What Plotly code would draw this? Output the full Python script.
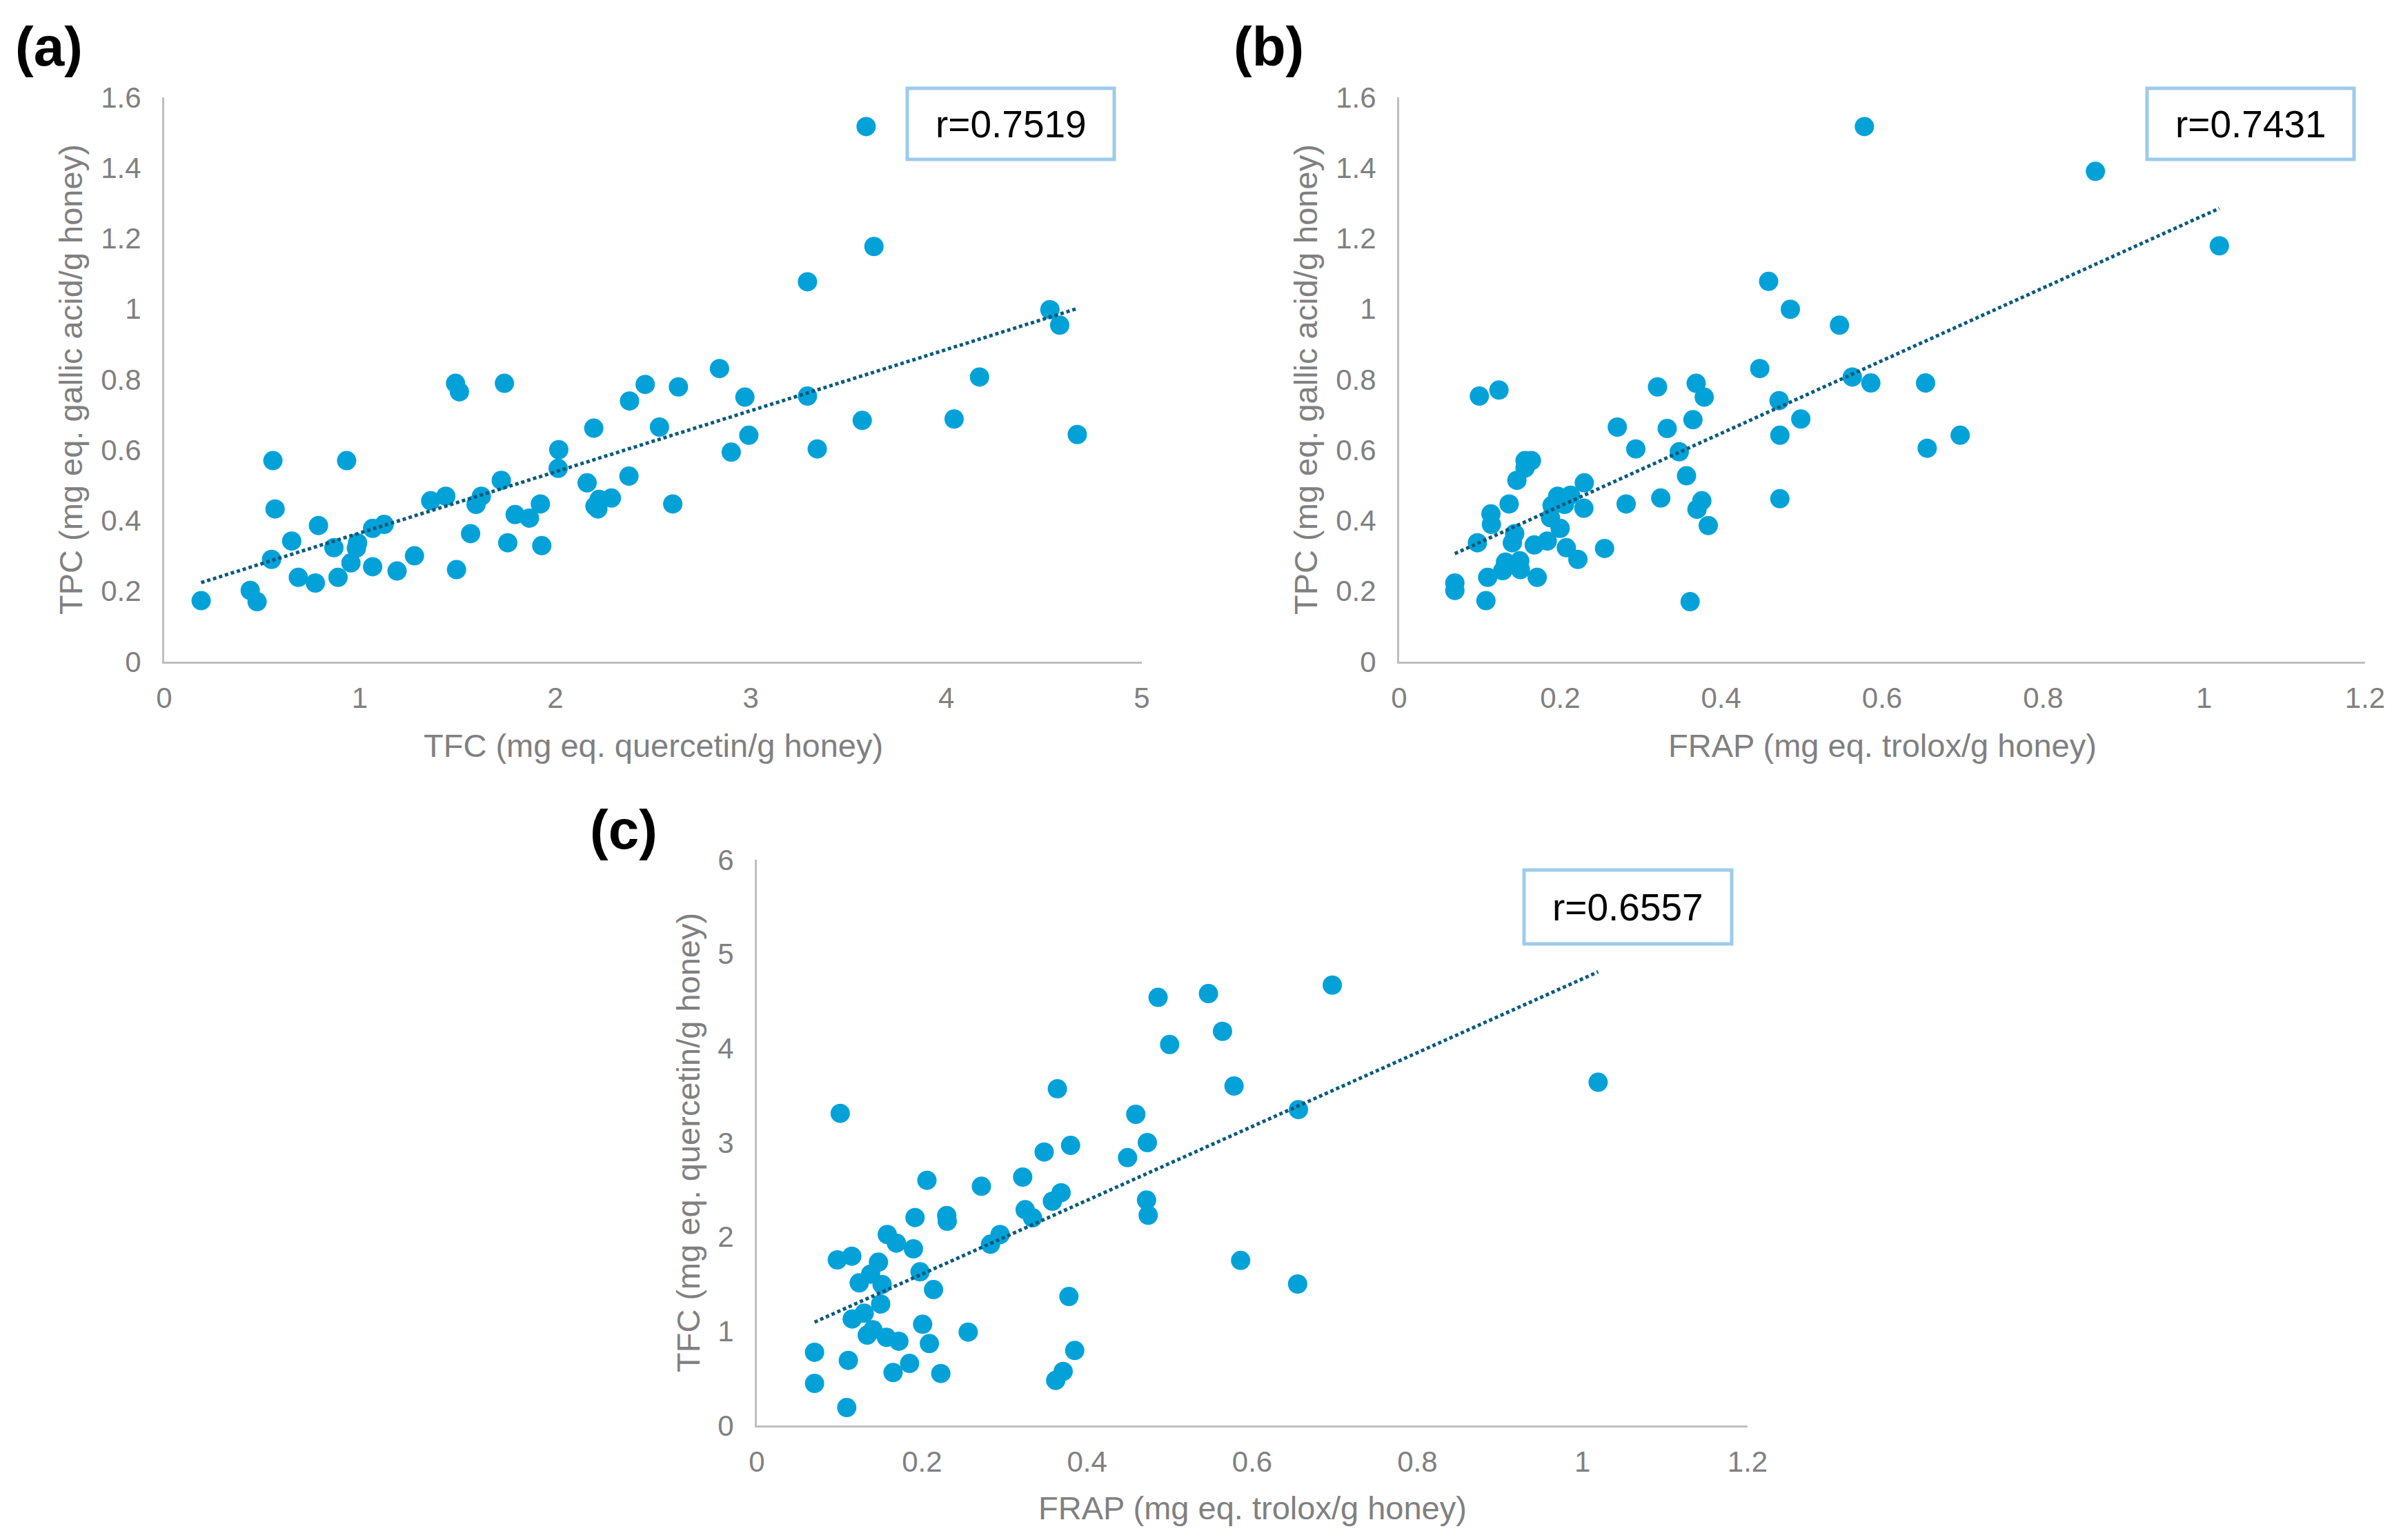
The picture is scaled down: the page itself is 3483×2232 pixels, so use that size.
import numpy as np
import plotly.graph_objects as go

# (a) TPC against TFC
tfc_a = [3.59, 3.63, 3.29, 4.53, 4.58, 2.84, 1.49, 1.51, 1.74, 2.46, 2.63, 2.38, 2.97,
         3.29, 4.17, 4.04, 3.57, 2.99, 4.67, 2.90, 3.34,
         2.197, 2.533, 2.018, 2.015, 1.724, 1.622, 1.595, 2.163, 2.377, 2.224, 2.287,
         2.203, 2.218, 2.601, 1.795, 1.868, 1.924, 1.567, 1.757, 1.931, 1.495,
         0.556, 0.933, 0.567, 0.789, 0.652, 0.549, 0.868, 0.989, 0.983, 0.955, 1.066,
         1.125, 0.686, 0.773, 0.889, 1.066, 1.191, 1.280, 1.363, 1.440, 0.189, 0.440, 0.475]
tpc_a = [1.517, 1.177, 1.077, 0.998, 0.954, 0.831, 0.789, 0.765, 0.789, 0.786, 0.779, 0.739, 0.750,
         0.753, 0.807, 0.688, 0.684, 0.642, 0.644, 0.594, 0.603,
         0.662, 0.665, 0.601, 0.548, 0.514, 0.469, 0.446, 0.507, 0.526, 0.460, 0.464,
         0.441, 0.433, 0.447, 0.417, 0.407, 0.447, 0.363, 0.337, 0.329, 0.261,
         0.570, 0.570, 0.433, 0.386, 0.342, 0.290, 0.323, 0.337, 0.322, 0.280, 0.378,
         0.389, 0.239, 0.223, 0.239, 0.269, 0.257, 0.300, 0.456, 0.469, 0.173, 0.202, 0.170]

# (b) TPC against FRAP
frap_b = [0.578, 0.865, 1.019, 0.459, 0.486, 0.547, 0.448, 0.0996, 0.124, 0.321, 0.369, 0.379,
          0.472, 0.563, 0.586, 0.654, 0.271, 0.333, 0.365, 0.499, 0.473, 0.697, 0.294, 0.348,
          0.656, 0.473,
          0.1564, 0.1643, 0.1564, 0.1463, 0.357, 0.230, 0.1366, 0.1969, 0.2129, 0.190, 0.2055,
          0.2295, 0.282, 0.325, 0.376, 0.370, 0.384, 0.114, 0.1146, 0.188, 0.200, 0.1435,
          0.1406, 0.0972, 0.1678, 0.184, 0.2077, 0.2552, 0.222, 0.1321, 0.1498, 0.1287,
          0.1506, 0.110, 0.1715, 0.0692, 0.0692, 0.1078, 0.3615]
tpc_b = [1.517, 1.390, 1.179, 1.078, 0.999, 0.954, 0.831, 0.753, 0.770, 0.779, 0.789, 0.750,
         0.740, 0.807, 0.790, 0.790, 0.665, 0.661, 0.686, 0.688, 0.642, 0.642, 0.603, 0.595,
         0.605, 0.462,
         0.570, 0.570, 0.549, 0.514, 0.527, 0.507, 0.447, 0.469, 0.472, 0.443, 0.446,
         0.435, 0.447, 0.464, 0.456, 0.432, 0.386, 0.419, 0.389, 0.408, 0.378, 0.363,
         0.337, 0.337, 0.331, 0.342, 0.323, 0.321, 0.290, 0.282, 0.286, 0.258,
         0.261, 0.239, 0.239, 0.223, 0.202, 0.173, 0.170]

# (c) TFC against FRAP
frap_c = [0.697, 0.486, 0.547, 0.564, 0.500, 0.364, 0.578, 1.019, 0.101, 0.459, 0.656, 0.473,
          0.380, 0.348, 0.449, 0.472, 0.474, 0.586, 0.655,
          0.206, 0.272, 0.322, 0.3685, 0.358, 0.1916, 0.230, 0.2306, 0.325, 0.334, 0.158,
          0.169, 0.1896, 0.2946, 0.283, 0.0975, 0.115, 0.1473, 0.1378, 0.124, 0.1517,
          0.1977, 0.214, 0.150, 0.130, 0.1155, 0.1337, 0.157, 0.172, 0.1406, 0.2008,
          0.209, 0.256, 0.0699, 0.1108, 0.0699, 0.1089, 0.165, 0.185, 0.2228, 0.378,
          0.385, 0.371, 0.362]
tfc_c = [4.67, 4.54, 4.58, 4.18, 4.04, 3.57, 3.60, 3.64, 3.31, 3.30, 3.35, 3.00,
         2.97, 2.90, 2.84, 2.39, 2.23, 1.75, 1.50,
         2.600, 2.537, 2.634, 2.468, 2.378, 2.205, 2.227, 2.166, 2.288, 2.202, 2.025,
         1.934, 1.873, 2.025, 1.922, 1.756, 1.795, 1.732, 1.605, 1.512, 1.495,
         1.629, 1.441, 1.288, 1.190, 1.129, 0.958, 0.934, 0.893, 1.015, 1.073,
         0.868, 0.990, 0.776, 0.690, 0.446, 0.190, 0.561, 0.658, 0.551, 1.368,
         0.795, 0.573, 0.478]

r_labels = ["r=0.7519", "r=0.7431", "r=0.6557"]
panel_tags = ["(a)", "(b)", "(c)"]
x_titles = ["TFC (mg eq. quercetin/g honey)", "FRAP (mg eq. trolox/g honey)",
            "FRAP (mg eq. trolox/g honey)"]
y_titles = ["TPC (mg eq. gallic acid/g honey)", "TPC (mg eq. gallic acid/g honey)",
            "TFC (mg eq. quercetin/g honey)"]

W, H = 3483, 2232
DOT = "#02A2D9"
TREND = "#0A5A7D"
AXIS_GREY = "#BFBFBF"
TEXT_GREY = "#808080"
BOX_BLUE = "#9DCBEB"
FONT = "Arial, Liberation Sans, sans-serif"


def fx(p):
    return p / W


def fy(p):
    return 1 - p / H


panels = [
    dict(x=tfc_a, y=tpc_a, xd=(238, 1655), yd=(959, 141), xr=[0, 5], xdt=1,
         yr=[0, 1.6], ydt=0.2, box=(1315, 128, 1615, 231), tag=(20, 67),
         ytitle_x=103, xtitle_y=1080),
    dict(x=frap_b, y=tpc_b, xd=(2028, 3428), yd=(959, 141), xr=[0, 1.2], xdt=0.2,
         yr=[0, 1.6], ydt=0.2, box=(3112, 128, 3412, 231), tag=(1786, 67),
         ytitle_x=1893, xtitle_y=1080),
    dict(x=frap_c, y=tfc_c, xd=(1097, 2533), yd=(2066, 1246), xr=[0, 1.2], xdt=0.2,
         yr=[0, 6], ydt=1, box=(2209, 1261, 2510, 1368), tag=(853, 1202),
         ytitle_x=997, xtitle_y=2185),
]

fig = go.Figure()
annotations = []
shapes = []

for i, p in enumerate(panels, start=1):
    sx = "" if i == 1 else str(i)
    xs = np.array(p["x"])
    ys = np.array(p["y"])

    fig.add_trace(go.Scatter(
        x=xs, y=ys, mode="markers",
        marker=dict(color=DOT, size=28, line=dict(width=0)),
        xaxis="x" + sx, yaxis="y" + sx, showlegend=False,
    ))

    # linear trendline fitted to the points
    slope, icpt = np.polyfit(xs, ys, 1)
    tx = np.array([xs.min(), xs.max()])
    fig.add_trace(go.Scatter(
        x=tx, y=slope * tx + icpt, mode="lines",
        line=dict(color=TREND, width=5, dash="5px,4px"),
        xaxis="x" + sx, yaxis="y" + sx, showlegend=False,
    ))

    axis_common = dict(showline=True, linecolor=AXIS_GREY, linewidth=3,
                       showgrid=False, zeroline=False, ticks="", automargin=False,
                       tickfont=dict(family=FONT, size=42, color=TEXT_GREY))
    fig.update_layout({
        "xaxis" + sx: dict(domain=[fx(p["xd"][0]), fx(p["xd"][1])], range=p["xr"],
                           dtick=p["xdt"], tick0=0, anchor="y" + sx,
                           ticklabelstandoff=14, **axis_common),
        "yaxis" + sx: dict(domain=[fy(p["yd"][0]), fy(p["yd"][1])], range=p["yr"],
                           dtick=p["ydt"], tick0=0, anchor="x" + sx,
                           ticklabelstandoff=22, **axis_common),
    })

    title_font = dict(family=FONT, size=47, color=TEXT_GREY)
    annotations.append(dict(
        text=x_titles[i - 1], xref="paper", yref="paper",
        x=fx((p["xd"][0] + p["xd"][1]) / 2), y=fy(p["xtitle_y"]),
        xanchor="center", yanchor="middle", showarrow=False, font=title_font))
    annotations.append(dict(
        text=y_titles[i - 1], xref="paper", yref="paper", textangle=-90,
        x=fx(p["ytitle_x"]), y=fy((p["yd"][0] + p["yd"][1]) / 2),
        xanchor="center", yanchor="middle", showarrow=False, font=title_font))
    annotations.append(dict(
        text="<b>" + panel_tags[i - 1] + "</b>", xref="paper", yref="paper",
        x=fx(p["tag"][0]), y=fy(p["tag"][1]), xanchor="left", yanchor="middle",
        showarrow=False, font=dict(family=FONT, size=80, color="black")))

    bx0, by0, bx1, by1 = p["box"]
    shapes.append(dict(type="rect", xref="paper", yref="paper",
                       x0=fx(bx0), x1=fx(bx1), y0=fy(by1), y1=fy(by0),
                       line=dict(color=BOX_BLUE, width=5), fillcolor="white"))
    annotations.append(dict(
        text=r_labels[i - 1], xref="paper", yref="paper",
        x=fx((bx0 + bx1) / 2), y=fy((by0 + by1) / 2),
        xanchor="center", yanchor="middle", showarrow=False,
        font=dict(family=FONT, size=55, color="black")))

fig.update_layout(
    width=W, height=H,
    margin=dict(l=0, r=0, t=0, b=0, pad=0, autoexpand=False),
    paper_bgcolor="white", plot_bgcolor="white",
    annotations=annotations, shapes=shapes,
)

# drop the browser's default body margin so the page is exactly the figure
fig.write_html("out.html", config={"displayModeBar": False},
               post_script="document.body.style.margin='0';"
                           "document.body.style.overflow='hidden';")
